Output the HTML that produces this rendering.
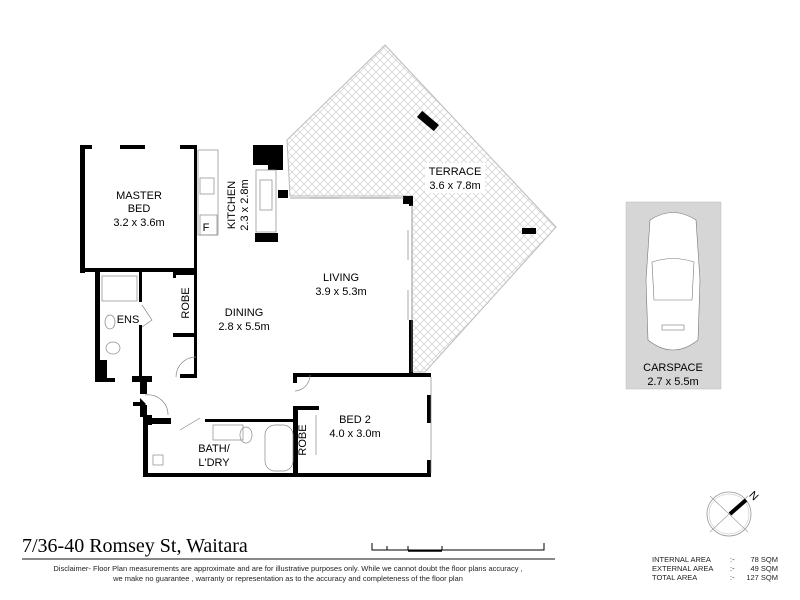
<!DOCTYPE html>
<html><head><style>
html,body{margin:0;padding:0;background:#fff;}
svg{display:block;font-family:"Liberation Sans",Arial,sans-serif;}
</style></head><body>
<svg width="800" height="600" viewBox="0 0 800 600" xmlns="http://www.w3.org/2000/svg">
<defs>
<pattern id="hatch" width="8" height="8" patternUnits="userSpaceOnUse">
<rect width="8" height="8" fill="#fff"/>
<path d="M0 0L8 8M8 0L0 8" stroke="#cfcfcf" stroke-width="0.7"/>
</pattern>
</defs>
<!-- terrace -->
<polygon points="287,140 385,45 556,227 425,372 412,372 412,196 290,196" fill="url(#hatch)" stroke="#bbb" stroke-width="1"/>
<rect x="424" y="110" width="8" height="22" fill="#000" transform="rotate(-50 428 121)"/>
<rect x="522" y="228" width="14" height="6" fill="#000"/>
<rect x="425" y="163" width="60" height="30" fill="#fff"/>
<text x="455" y="175" font-size="11" text-anchor="middle">TERRACE</text>
<text x="455" y="189" font-size="11" text-anchor="middle">3.6 x 7.8m</text>

<!-- floor white -->
<g fill="#000">
<!-- master bed -->
<rect x="80" y="145" width="5" height="128"/>
<rect x="80" y="145" width="12" height="4"/>
<rect x="120" y="145" width="25" height="4"/>
<rect x="180" y="145" width="17" height="4"/>
<rect x="194" y="145" width="3" height="130"/>
<rect x="80" y="268" width="117" height="4"/>
<!-- kitchen -->
<rect x="194" y="145" width="3" height="5"/>
<rect x="253" y="145" width="30" height="20"/>
<rect x="268" y="145" width="15" height="25"/>
<rect x="278" y="190" width="10" height="8"/>
<rect x="255" y="233" width="23" height="9"/>
<!-- living -->
<rect x="403" y="196" width="10" height="8"/>
<rect x="409" y="196" width="4" height="10"/>
<rect x="409" y="320" width="4" height="56"/>
<rect x="293" y="373" width="138" height="4"/>
<rect x="293" y="373" width="4" height="10"/>
<!-- bed2 -->
<rect x="427" y="395" width="4" height="28"/>
<rect x="427" y="460" width="4" height="17"/>
<rect x="293" y="406" width="5" height="71"/>
<rect x="293" y="406" width="26" height="4"/>
<!-- bottom -->
<rect x="143" y="473" width="288" height="4"/>
<rect x="143" y="415" width="5" height="62"/>
<rect x="143" y="418" width="28" height="6"/>
<rect x="143" y="415" width="9" height="10"/>
<rect x="205" y="419" width="88" height="3"/>
<!-- ensuite -->
<rect x="95" y="272" width="5" height="110"/>
<rect x="95" y="360" width="12" height="22"/>
<rect x="95" y="378" width="20" height="4"/>
<rect x="132" y="376" width="20" height="6"/>
<rect x="140" y="378" width="7" height="16"/>
<rect x="140" y="405" width="7" height="12"/>
<rect x="139" y="272" width="3" height="30"/>
<rect x="139" y="325" width="3" height="52"/>
<!-- robe -->
<rect x="173" y="272" width="24" height="3"/>
<rect x="173" y="272" width="3" height="6"/>
<rect x="173" y="333" width="24" height="4"/>
<rect x="194" y="272" width="3" height="105"/>
<rect x="180" y="374" width="17" height="4"/>
</g>
<!-- fixtures outlines -->
<g fill="none" stroke="#888" stroke-width="0.7">
<rect x="198" y="150" width="20" height="85"/>
<rect x="200" y="178" width="14" height="16"/>
<rect x="200" y="215" width="17" height="20"/>
<rect x="256" y="170" width="20" height="62"/>
<rect x="260" y="180" width="12" height="30"/>
<rect x="102" y="276" width="35" height="25"/>
<ellipse cx="110" cy="322" rx="5" ry="7"/>
<ellipse cx="113" cy="348" rx="7" ry="6"/>
<path d="M142 305 L152 320 L142 327"/>
<rect x="213" y="425" width="30" height="15"/>
<ellipse cx="246" cy="435" rx="6" ry="8"/>
<rect x="265" y="425" width="28" height="46" rx="10"/>
<rect x="153" y="455" width="10" height="10"/>
<path d="M176 377 A20 20 0 0 1 196 357"/>
<path d="M145 395 A20 20 0 0 1 168 415"/>
<path d="M310 375 A16 16 0 0 1 295 391"/>
<path d="M180 430 L200 418"/>
<path d="M290 198 L404 198 M412 205 L412 372 M431 377 L431 473"/>
<path d="M310 198h30M360 198h30M408 230v30M408 290v30M316 415v40"/>
</g>
<!-- entry arrow -->
<polygon points="133,402 140,402 140,398 146,404 140,410 140,406 133,406" fill="#000"/>
<!-- labels -->
<g font-size="11" text-anchor="middle" fill="#000">
<text x="139" y="199">MASTER</text>
<text x="139" y="212">BED</text>
<text x="139" y="226">3.2 x 3.6m</text>
<text x="235" y="205" transform="rotate(-90 235 205)">KITCHEN</text>
<text x="248" y="205" transform="rotate(-90 248 205)">2.3 x 2.8m</text>
<text x="206" y="231">F</text>
<text x="341" y="281">LIVING</text>
<text x="341" y="295">3.9 x 5.3m</text>
<text x="244" y="316">DINING</text>
<text x="244" y="330">2.8 x 5.5m</text>
<text x="128" y="323">ENS</text>
<text x="189" y="303" transform="rotate(-90 189 303)">ROBE</text>
<text x="306" y="440" transform="rotate(-90 306 440)">ROBE</text>
<text x="355" y="423">BED 2</text>
<text x="355" y="437">4.0 x 3.0m</text>
<text x="214" y="452">BATH/</text>
<text x="214" y="466">L'DRY</text>
</g>
<!-- carspace -->
<rect x="626" y="202" width="95" height="187" fill="#d6d6d6" stroke="#bbb" stroke-width="0.5"/>
<g fill="#fff" stroke="#777" stroke-width="0.6">
<path d="M650 220 Q673 205 696 220 L700 280 L698 340 Q673 360 648 340 L646 280 Z"/>
<path d="M652 262 Q673 255 694 262 L692 300 L654 300 Z" fill="none"/>
<rect x="662" y="325" width="22" height="5" fill="none"/>
</g>
<text x="673" y="371" font-size="11" text-anchor="middle">CARSPACE</text>
<text x="673" y="385" font-size="11" text-anchor="middle">2.7 x 5.5m</text>
<!-- compass -->
<circle cx="729" cy="514" r="22" fill="none" stroke="#999" stroke-width="0.8"/>
<circle cx="729" cy="514" r="20" fill="none" stroke="#bbb" stroke-width="0.5"/>
<path d="M710 496L748 532M710 532L748 496" stroke="#999" stroke-width="0.6"/>
<path d="M730 514L746 500" stroke="#000" stroke-width="4"/>
<text x="752" y="497" font-size="11" transform="rotate(45 752 492)">N</text>
<!-- footer -->
<text x="22" y="552" font-family="Liberation Serif,serif" font-size="20">7/36-40 Romsey St, Waitara</text>
<rect x="22" y="558" width="533" height="2" fill="#888"/>
<g stroke="#000" stroke-width="1" fill="none">
<path d="M372 543v7h172v-7M387 546v4M408 546v4M442 546v4"/>
<path d="M408 551h34" stroke-width="1.5"/>
</g>
<text x="288" y="571" font-size="7.5" text-anchor="middle" fill="#222">Disclaimer- Floor Plan measurements are approximate and are for illustrative purposes only. While we cannot doubt the floor plans accuracy ,</text>
<text x="288" y="581" font-size="7.5" text-anchor="middle" fill="#222">we make no guarantee , warranty or representation as to the accuracy and completeness of the floor plan</text>
<g font-size="7.5" fill="#222">
<text x="652" y="562">INTERNAL AREA</text><text x="730" y="562">:-</text><text x="778" y="562" text-anchor="end">78 SQM</text>
<text x="652" y="571">EXTERNAL AREA</text><text x="730" y="571">:-</text><text x="778" y="571" text-anchor="end">49 SQM</text>
<text x="652" y="580">TOTAL AREA</text><text x="730" y="580">:-</text><text x="778" y="580" text-anchor="end">127 SQM</text>
</g>
</svg>
</body></html>
